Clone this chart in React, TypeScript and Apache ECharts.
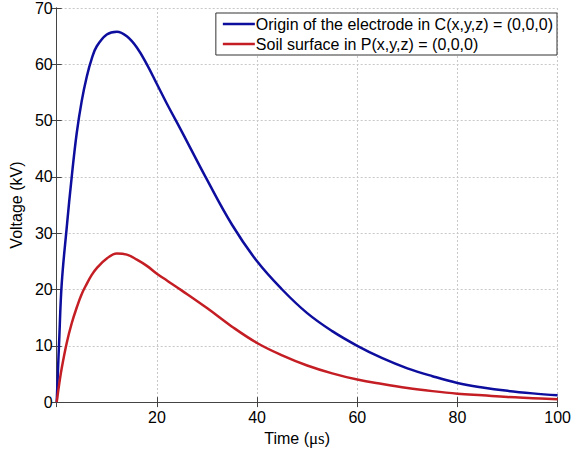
import React, { useEffect, useRef } from "react";
import * as echarts from "echarts";

const timeUs = [0, 0.5, 1, 2, 3, 4, 5, 6, 7, 8, 10, 12, 14, 16, 18, 20, 22, 25, 30, 35, 40, 45, 50, 55, 60, 65, 70, 75, 80, 85, 90, 95, 100];
const electrodeKV = [0, 11, 21, 31, 40, 47.8, 53.5, 57.8, 61, 63.2, 65.3, 65.8, 65, 63, 60, 56.5, 53, 48, 39.5, 31.5, 25, 20, 15.8, 12.6, 10, 7.8, 6.0, 4.6, 3.4, 2.6, 2.0, 1.55, 1.2];
const soilKV = [0, 3.2, 6, 10.5, 14, 16.8, 19.2, 21, 22.6, 23.8, 25.5, 26.4, 26.2, 25.3, 24.2, 22.8, 21.6, 19.8, 16.7, 13.4, 10.5, 8.3, 6.5, 5.1, 4.0, 3.2, 2.5, 1.95, 1.5, 1.2, 0.9, 0.7, 0.5];
const seriesNames = ["Origin of the electrode in C(x,y,z) = (0,0,0)", "Soil surface in P(x,y,z) = (0,0,0)"];
const xName = "Time ({u|\u03bcs})";
const yName = "Voltage (kV)";

const FONT = "'Liberation Sans', Arial, sans-serif";

export default function App() {
  const ref = useRef<HTMLDivElement>(null);
  useEffect(() => {
    if (!ref.current) return;
    const chart = echarts.init(ref.current, undefined, { renderer: "svg" });
    const axisLine = { show: true, lineStyle: { color: "#444", width: 1 } };
    const tick = { show: true, inside: true, length: 5, lineStyle: { color: "#444" } };
    const split = { show: true, lineStyle: { color: "#c8c8c8", type: [2, 2] as any, width: 1 } };
    chart.setOption({
      animation: false,
      backgroundColor: "#fff",
      textStyle: { fontFamily: FONT },
      grid: { left: 49, right: 13, top: 7, bottom: 42.5, containLabel: false },
      legend: {
        orient: "vertical",
        right: 17,
        top: 13,
        backgroundColor: "#fff",
        borderColor: "#333",
        borderWidth: 1,
        borderRadius: 0,
        padding: [3, 4, 3, 7],
        itemGap: 4,
        itemWidth: 32,
        itemHeight: 2.5,
        icon: "rect",
        textStyle: { fontSize: 16, color: "#000", fontFamily: FONT, padding: [0, 0, 0, -4] },
        data: seriesNames,
      },
      xAxis: [
        {
          type: "value",
          min: 0,
          max: 100,
          interval: 20,
          name: xName,
          nameLocation: "middle",
          nameGap: 18,
          nameTextStyle: {
            fontSize: 16,
            color: "#000",
            fontFamily: FONT,
            padding: [0, 20, 0, 0],
            rich: { u: { fontSize: 17, color: "#000", fontFamily: "'Liberation Serif', 'DejaVu Serif', serif" } },
          },
          axisLine,
          axisTick: tick,
          axisLabel: { fontSize: 16, color: "#000", margin: 7, fontFamily: FONT, formatter: (v: number) => (v === 0 ? "" : String(v)) },
          splitLine: split,
        },
        {
          type: "value",
          position: "top",
          min: 0,
          max: 100,
          interval: 20,
          axisLine,
          axisTick: tick,
          axisLabel: { show: false },
          splitLine: { show: false },
        },
      ],
      yAxis: [
        {
          type: "value",
          min: 0,
          max: 70,
          interval: 10,
          name: yName,
          nameLocation: "middle",
          nameGap: 32,
          nameTextStyle: { fontSize: 16, color: "#000", fontFamily: FONT },
          axisLine,
          axisTick: tick,
          axisLabel: { fontSize: 16, color: "#000", margin: 4, fontFamily: FONT },
          splitLine: split,
        },
        {
          type: "value",
          position: "right",
          min: 0,
          max: 70,
          interval: 10,
          axisLine,
          axisTick: tick,
          axisLabel: { show: false },
          splitLine: { show: false },
        },
      ],
      series: [
        {
          name: seriesNames[0],
          type: "line",
          data: timeUs.map((t, i) => [t, electrodeKV[i]]),
          smooth: 0.4,
          showSymbol: false,
          symbol: "none",
          lineStyle: { color: "#0d0d9e", width: 2.5 },
          itemStyle: { color: "#0d0d9e" },
        },
        {
          name: seriesNames[1],
          type: "line",
          data: timeUs.map((t, i) => [t, soilKV[i]]),
          smooth: 0.4,
          showSymbol: false,
          symbol: "none",
          lineStyle: { color: "#c41e24", width: 2.5 },
          itemStyle: { color: "#c41e24" },
        },
      ],
    });
    return () => chart.dispose();
  }, []);
  return <div ref={ref} style={{ position: "absolute", left: 0, top: 0, width: 574, height: 452 }} />;
}
